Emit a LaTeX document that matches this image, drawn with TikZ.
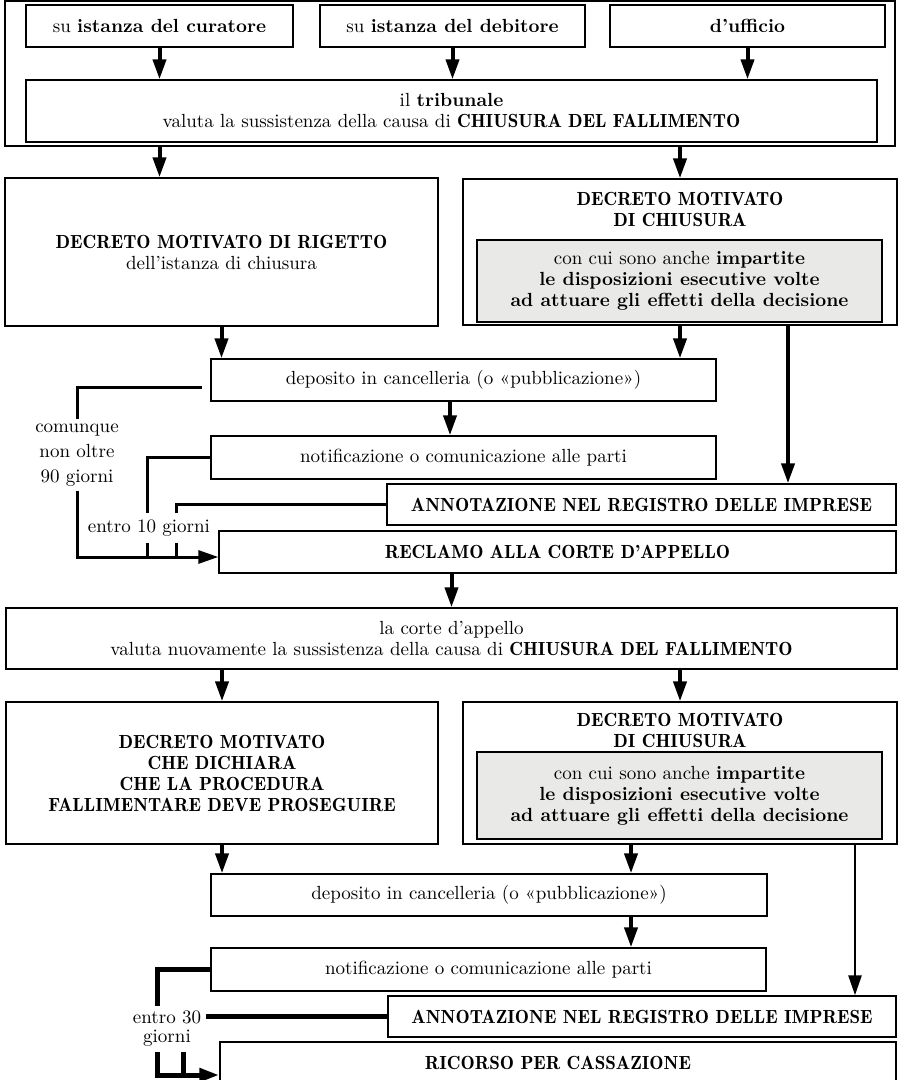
\documentclass[tikz,border=0pt]{standalone}
\usepackage{fontspec}
\newfontfamily\demifont{lmromandemi10-regular.otf}
\newcommand{\hd}[1]{{\demifont #1}}
\usetikzlibrary{arrows.meta}
\definecolor{PanelGray}{RGB}{233,234,231}
\newcommand{\boxfont}{\fontsize{9.5}{10.5}\selectfont}
\tikzset{
  box/.style={draw=black,line width=0.7pt,fill=white,inner sep=2pt,align=center,font=\boxfont},
  panel/.style={box,fill=PanelGray},
  title/.style={align=center,inner sep=0pt,font=\boxfont\demifont},
  flow/.style={line width=2pt,->},
  link/.style={line width=1.5pt},
  lab/.style={align=center,inner sep=2pt},
}
\begin{document}
\begin{tikzpicture}[x=0.5pt,y=-0.5pt,>={Triangle[length=10pt,width=6.5pt]}]
\clip (0,0) rectangle (900,1080);
% first degree
\node[draw=black,line width=0.7pt,minimum width=445pt,minimum height=72.5pt] (grp) at (450,73.5) {};
\node[box,minimum width=133.5pt,minimum height=21pt] (cur) at (159.5,26) {su \textbf{istanza del curatore}};
\node[box,minimum width=132.5pt,minimum height=21pt] (deb) at (452.5,26) {su \textbf{istanza del debitore}};
\node[box,minimum width=137.5pt,minimum height=21pt] (uff) at (747.5,26) {\textbf{d’ufficio}};
\node[box,minimum width=425.5pt,minimum height=31pt] (trib) at (451.5,111) {il \textbf{tribunale}\\valuta la sussistenza della causa di \hd{CHIUSURA DEL FALLIMENTO}};
\node[box,minimum width=216.5pt,minimum height=74pt] (rig) at (221.5,252) {\hd{DECRETO MOTIVATO DI RIGETTO}\\dell’istanza di chiusura};
\node[box,minimum width=217pt,minimum height=73pt] (chi) at (680,252) {};
\node[title] (chit) at (680,209) {DECRETO MOTIVATO\\DI CHIUSURA};
\node[panel,minimum width=202.5pt,minimum height=41pt] (chid) at (679.5,281) {con cui sono anche \textbf{impartite}\\\textbf{le disposizioni esecutive volte}\\\textbf{ad attuare gli effetti della decisione}};
\node[box,minimum width=252.5pt,minimum height=21pt] (dep1) at (463.5,380) {deposito in cancelleria (o «pubblicazione»)};
\node[box,minimum width=252.5pt,minimum height=21.5pt] (not1) at (463.5,457.5) {notificazione o comunicazione alle parti};
\node[box,minimum width=254.5pt,minimum height=20.5pt] (ann1) at (641.5,504.5) {\hd{ANNOTAZIONE NEL REGISTRO DELLE IMPRESE}};
\node[box,minimum width=338.5pt,minimum height=21pt] (rec) at (557.5,552) {\hd{RECLAMO ALLA CORTE D’APPELLO}};
% appeal
\node[box,minimum width=445.5pt,minimum height=30.5pt] (corte) at (451.5,638.5) {la corte d’appello\\valuta nuovamente la sussistenza della causa di \hd{CHIUSURA DEL FALLIMENTO}};
\node[box,minimum width=216pt,minimum height=71pt] (pro) at (222,773) {\hd{DECRETO MOTIVATO}\\\hd{CHE DICHIARA}\\\hd{CHE LA PROCEDURA}\\\hd{FALLIMENTARE DEVE PROSEGUIRE}};
\node[box,minimum width=217pt,minimum height=71pt] (chi2) at (680,773) {};
\node[title] (chit2) at (680,730) {DECRETO MOTIVATO\\DI CHIUSURA};
\node[panel,minimum width=202.5pt,minimum height=43.5pt] (chid2) at (679.5,795.5) {con cui sono anche \textbf{impartite}\\\textbf{le disposizioni esecutive volte}\\\textbf{ad attuare gli effetti della decisione}};
\node[box,minimum width=278pt,minimum height=21pt] (dep2) at (489,895) {deposito in cancelleria (o «pubblicazione»)};
\node[box,minimum width=277.5pt,minimum height=21.5pt] (not2) at (488.5,969.5) {notificazione o comunicazione alle parti};
\node[box,minimum width=254pt,minimum height=20.5pt] (ann2) at (642,1016.5) {\hd{ANNOTAZIONE NEL REGISTRO DELLE IMPRESE}};
\node[box,minimum width=338pt,minimum height=21pt] (ric) at (558,1063) {\hd{RICORSO PER CASSAZIONE}};
% terms
\node[lab,font=\fontsize{9.5}{12.5}\selectfont] (lim90) at (77,455) {comunque\\non oltre\\90 giorni};
\node[lab,inner sep=3pt,font=\boxfont] (lim10) at (149,528) {entro 10 giorni};
\node[lab,inner sep=2.5pt,font=\fontsize{9.5}{9.5}\selectfont] (lim30) at (167,1029) {entro 30\\giorni};
\coordinate (m1) at (450,0);
\coordinate (k1) at (788,0);
\coordinate (m2) at (631,0);
\coordinate (k2) at (855,0);
\coordinate (a10) at (147,0);
\coordinate (b10) at (176,0);
\coordinate (a30) at (157,0);
\coordinate (b30) at (183,0);
\coordinate (r10) at (rec.west |- 0,557);
\coordinate (r30) at (ric.west |- 0,1075);

\draw[flow] (cur.south) -- (cur.south |- trib.north);
\draw[flow] (deb.south) -- (deb.south |- trib.north);
\draw[flow] (uff.south) -- (uff.south |- trib.north);
\draw[flow] (grp.south -| cur) -- (cur |- rig.north);
\draw[flow] (grp.south -| chi) -- (chi.north);
\draw[flow] (rig.south) -- (rig.south |- dep1.north);
\draw[flow] (chi.south) -- (chi.south |- dep1.north);
\draw[flow] (m1 |- dep1.south) -- (m1 |- not1.north);
\draw[flow] (k1 |- chi.south) -- (k1 |- ann1.north);
\draw[flow] (corte.north |- rec.south) -- (corte.north);
\draw[link,shorten <=4pt] ([yshift=-3.5pt]dep1.west) -| (lim90.north);
\draw[link,->] (lim90.south) |- (r10);
\draw[link] (not1.west) -| (a10 |- lim10.north);
\draw[link] (a10 |- lim10.south) -- (a10 |- r10);
\draw[link] (ann1.west) -| (b10 |- lim10.north);
\draw[link] (b10 |- lim10.south) -- (b10 |- r10);
\draw[flow] (pro.north |- corte.south) -- (pro.north);
\draw[flow] (chi2.north |- corte.south) -- (chi2.north);
\draw[flow] (pro.south) -- (pro.south |- dep2.north);
\draw[flow] (m2 |- chi2.south) -- (m2 |- dep2.north);
\draw[flow] (m2 |- dep2.south) -- (m2 |- not2.north);
\draw[line width=1.3pt,->] (k2 |- chi2.south) -- (k2 |- ann2.north);
\draw[line width=2.5pt] (not2.west) -| (a30 |- lim30.north);
\draw[line width=2.5pt] (ann2.west) -- (lim30.east |- ann2.west);
\draw[line width=2.5pt,->] (a30 |- lim30.south) |- (r30);
\draw[line width=2.5pt] (b30 |- lim30.south) -- (b30 |- r30);
\end{tikzpicture}
\end{document}
